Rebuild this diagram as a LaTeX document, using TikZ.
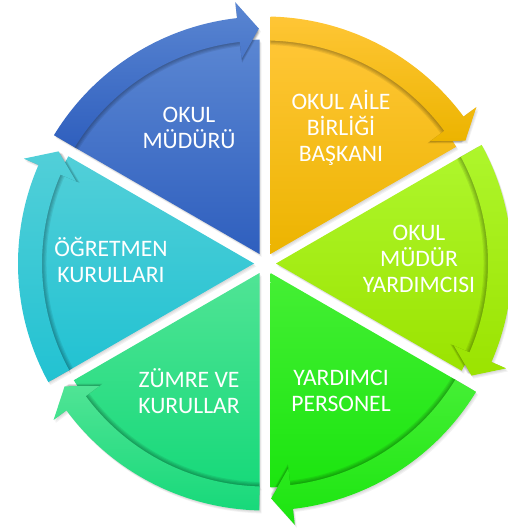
\documentclass[tikz,border=0pt]{standalone}
\usepackage{fontspec}
\setmainfont{Carlito}
\definecolor{bluT}{HTML}{5A86D2}\definecolor{bluB}{HTML}{2F5FBE}
\definecolor{oraT}{HTML}{FFC636}\definecolor{oraB}{HTML}{ECB400}
\definecolor{ygrT}{HTML}{AEF62C}\definecolor{ygrB}{HTML}{9BE300}
\definecolor{grnT}{HTML}{45EF35}\definecolor{grnB}{HTML}{1BE50F}
\definecolor{mntT}{HTML}{50E495}\definecolor{mntB}{HTML}{17D97A}
\definecolor{tealT}{HTML}{52CFD8}\definecolor{tealB}{HTML}{22C2D2}
% wedge between angles #1 (clockwise end) and #2 (counter-clockwise end)
\newcommand\wedgeP[2]{({(#1+#2)/2}:11pt) -- ({#2-1.4}:224pt) arc[start angle={#2-1.4}, end angle={#1+1.4}, radius=224pt] -- cycle}
% curved arrow band along the rim, head at the clockwise end
\newcommand\bandP[2]{({#2-1.3}:247pt) arc[start angle={#2-1.3}, end angle={#1+6.5}, radius=247pt] -- ({#1+6.5}:263pt) -- ({#1+1.5}:235pt) -- ({#1+6.5}:206pt) -- ({#1+6.5}:223pt) arc[start angle={#1+6.5}, end angle={#2-1.4}, radius=223pt] -- cycle}
\begin{document}
\begin{tikzpicture}[x=1pt,y=1pt,
  lbl/.style={text=white, align=center, font=\fontsize{23.6}{26}\selectfont, inner sep=0pt}]
\useasboundingbox (-265,-268.5) rectangle (242,263.5);
% soft drop shadows
\foreach \a/\b in {90/150,30/90,-30/30,-90/-30,-150/-90,150/210}{
  \foreach \k in {1,2,3}{
    \fill[black,opacity=0.05,shift={(0.7*\k,-1.0*\k)}] \wedgeP{\a}{\b};
    \fill[black,opacity=0.05,shift={(0.7*\k,-1.0*\k)}] \bandP{\a}{\b};
  }
}
% wedges
\shade[top color=bluT, bottom color=bluB] \wedgeP{90}{150};
\shade[top color=oraT, bottom color=oraB] \wedgeP{30}{90};
\shade[top color=ygrT, bottom color=ygrB] \wedgeP{-30}{30};
\shade[top color=grnT, bottom color=grnB] \wedgeP{-90}{-30};
\shade[top color=mntT, bottom color=mntB] \wedgeP{-150}{-90};
\shade[top color=tealT, bottom color=tealB] \wedgeP{150}{210};
% arrow bands with inward shadow
\foreach \a/\b/\ct/\cb in {90/150/bluT/bluB,30/90/oraT/oraB,-30/30/ygrT/ygrB,-90/-30/grnT/grnB,-150/-90/mntT/mntB,150/210/tealT/tealB}{
  \foreach \s in {0.995,0.99,0.985,0.98}{
    \fill[black,opacity=0.075,scale=\s] \bandP{\a}{\b};
  }
  \shade[top color=\ct, bottom color=\cb] \bandP{\a}{\b};
}
% labels
\node[lbl] (t1) at (-76,135.5) {OKUL\\MÜDÜRÜ};
\node[lbl] (t2) at (76,135.5) {OKUL AİLE\\BİRLİĞİ\\BAŞKANI};
\node[lbl] (t3) at (154,4.5) {OKUL\\MÜDÜR\\YARDIMCISI};
\node[lbl] (t4) at (76,-127.5) {YARDIMCI\\PERSONEL};
\node[lbl] (t5) at (-76,-127.5) {ZÜMRE VE\\KURULLAR};
\node[lbl] (t6) at (-154,3.5) {ÖĞRETMEN\\KURULLARI};
\end{tikzpicture}
\end{document}
